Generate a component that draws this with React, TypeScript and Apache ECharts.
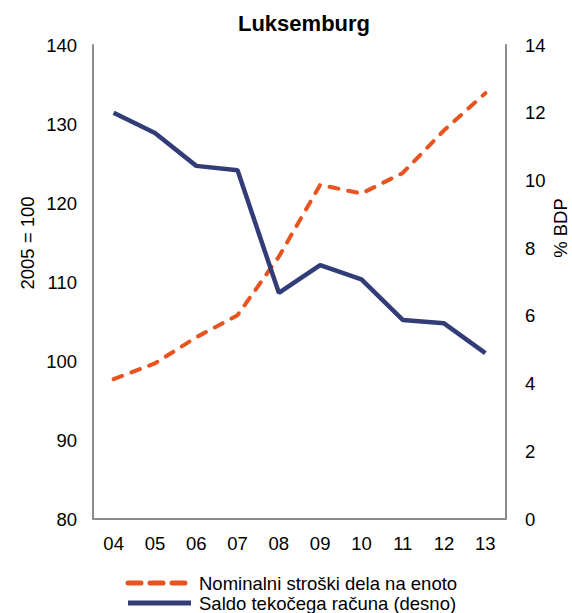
import React, { useEffect, useRef } from "react";
import * as echarts from "echarts";

// Years (2004–2013) shown as two-digit labels
const years = ["04", "05", "06", "07", "08", "09", "10", "11", "12", "13"];

// Nominal unit labour costs, index 2005 = 100 (left axis)
const unitLabourCosts = [97.7, 99.7, 103.0, 105.8, 113.2, 122.3, 121.2, 123.8, 129.2, 133.9];

// Current account balance, % of GDP (right axis)
const currentAccount = [12.0, 11.4, 10.43, 10.3, 6.68, 7.5, 7.08, 5.88, 5.78, 4.9];

const seriesNames = ["Nominalni stroški dela na enoto", "Saldo tekočega računa (desno)"];

const ORANGE = "#E8531F";
const NAVY = "#323D78";
const AXIS_GREY = "#8C8C8C";
const FONT = "Liberation Sans, Arial, sans-serif";
const FONT_SIZE = 18.5;

// Legend rows drawn as graphics: a line sample followed by the series name
function legendRow(y: number, name: string, color: string, dashed: boolean) {
  return {
    type: "group",
    children: [
      {
        type: "line",
        shape: { x1: 128, y1: y, x2: 191, y2: y },
        style: {
          stroke: color,
          lineWidth: 5,
          lineDash: dashed ? [13, 9] : null,
          lineCap: dashed ? "round" : "butt",
        },
      },
      {
        type: "text",
        x: 199,
        y,
        style: {
          text: name,
          fontSize: FONT_SIZE,
          fontFamily: FONT,
          fill: "#000",
          align: "left",
          verticalAlign: "middle",
        },
      },
    ],
  };
}

function axisName(x: number, y: number, text: string) {
  return {
    type: "text",
    x,
    y,
    rotation: Math.PI / 2,
    style: {
      text,
      fontSize: FONT_SIZE,
      fontFamily: FONT,
      fill: "#000",
      align: "center",
      verticalAlign: "middle",
    },
  };
}

export default function App() {
  const ref = useRef<HTMLDivElement>(null);

  useEffect(() => {
    if (!ref.current) return;
    const chart = echarts.init(ref.current, undefined, { renderer: "svg" });
    const axisLabel = { color: "#000", fontSize: FONT_SIZE, fontFamily: FONT };

    chart.setOption({
      animation: false,
      backgroundColor: "#fff",
      title: {
        text: "Luksemburg",
        left: 299,
        textAlign: "center",
        top: 7,
        textStyle: { fontSize: 22, fontWeight: "bold", color: "#000", fontFamily: FONT },
      },
      grid: { left: 93, right: 66, top: 45, bottom: 94, containLabel: false },
      xAxis: {
        type: "category",
        data: years,
        boundaryGap: true,
        axisLine: { show: true, lineStyle: { color: AXIS_GREY, width: 2 } },
        axisTick: { show: false },
        axisLabel: { ...axisLabel, margin: 15 },
        splitLine: { show: false },
      },
      yAxis: [
        {
          type: "value",
          min: 80,
          max: 140,
          interval: 10,
          position: "left",
          axisLine: { show: true, lineStyle: { color: AXIS_GREY, width: 2 } },
          axisTick: { show: false },
          axisLabel: { ...axisLabel, margin: 16 },
          splitLine: { show: false },
        },
        {
          type: "value",
          min: 0,
          max: 14,
          interval: 2,
          position: "right",
          axisLine: { show: true, lineStyle: { color: AXIS_GREY, width: 2 } },
          axisTick: { show: false },
          axisLabel: { ...axisLabel, margin: 19 },
          splitLine: { show: false },
        },
      ],
      graphic: [
        axisName(27, 243, "2005 = 100"),
        axisName(560, 228, "% BDP"),
        legendRow(583, seriesNames[0], ORANGE, true),
        legendRow(603, seriesNames[1], NAVY, false),
      ],
      series: [
        {
          name: seriesNames[0],
          type: "line",
          yAxisIndex: 0,
          data: unitLabourCosts,
          symbol: "none",
          itemStyle: { color: ORANGE },
          lineStyle: { color: ORANGE, width: 4, type: [9, 10], cap: "round" },
        },
        {
          name: seriesNames[1],
          type: "line",
          yAxisIndex: 1,
          data: currentAccount,
          symbol: "none",
          itemStyle: { color: NAVY },
          lineStyle: { color: NAVY, width: 4.5 },
        },
      ],
    });

    return () => chart.dispose();
  }, []);

  return <div ref={ref} style={{ width: 572, height: 613, position: "absolute", left: 0, top: 0 }} />;
}
